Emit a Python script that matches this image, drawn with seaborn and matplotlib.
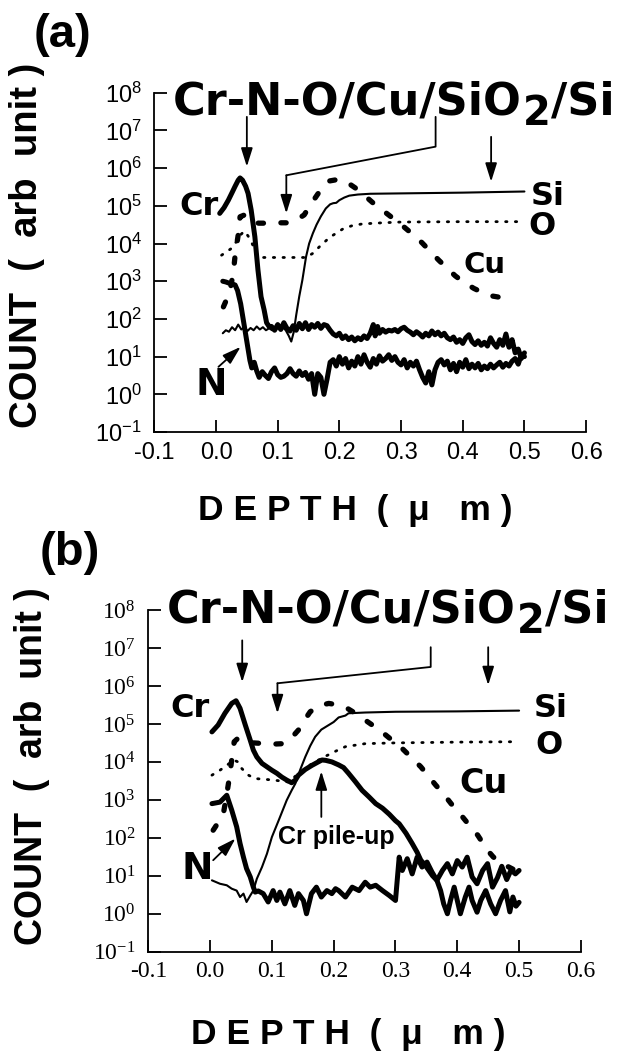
import matplotlib
matplotlib.use("Agg")
import matplotlib.pyplot as plt
import numpy as np
import pandas as pd
import seaborn as sns
from matplotlib.ticker import FixedLocator, FormatStrFormatter, LogFormatterSciNotation, NullLocator

# ---------------- axis ticks ----------------
xtick_vals = [-0.1, 0.0, 0.1, 0.2, 0.3, 0.4, 0.5, 0.6]
ytick_exps = [-1, 0, 1, 2, 3, 4, 5, 6, 7, 8]

# ---------------- panel (a) data : depth (um), log10(count) ----------------
cr_a_x = [0.006, 0.013, 0.020, 0.026, 0.031, 0.036, 0.039, 0.043, 0.048, 0.052, 0.057, 0.063, 0.068, 0.073, 0.078, 0.082, 0.086,
          0.090, 0.095, 0.100, 0.105, 0.110, 0.115, 0.120, 0.125, 0.130, 0.135,
          0.140, 0.145, 0.150, 0.155, 0.160, 0.165, 0.170, 0.175, 0.180, 0.185,
          0.190, 0.195, 0.200, 0.205, 0.210, 0.215, 0.220, 0.225, 0.230, 0.235,
          0.240, 0.245, 0.250, 0.255, 0.258, 0.262, 0.265,
          0.270, 0.275, 0.280, 0.285, 0.290, 0.295, 0.300, 0.305, 0.310, 0.315,
          0.320, 0.325, 0.330, 0.335, 0.340, 0.345, 0.350, 0.355, 0.360, 0.365,
          0.370, 0.375, 0.380, 0.385, 0.390, 0.395, 0.400, 0.405, 0.410, 0.415,
          0.420, 0.425, 0.430, 0.435, 0.440, 0.445, 0.450, 0.455, 0.460, 0.465,
          0.470, 0.475, 0.480, 0.485, 0.490, 0.495, 0.500]
cr_a_exp = [4.80, 4.95, 5.15, 5.35, 5.52, 5.68, 5.74, 5.68, 5.52, 5.33, 4.89, 4.18, 3.30, 2.59, 2.24, 1.90, 1.80,
            1.80, 1.70, 1.85, 1.72, 1.90, 1.75, 1.68, 1.82, 1.70, 1.88,
            1.74, 1.90, 1.72, 1.85, 1.78, 1.88, 1.75, 1.85, 1.82, 1.70,
            1.60, 1.55, 1.62, 1.48, 1.55, 1.45, 1.52, 1.42, 1.50, 1.45,
            1.55, 1.48, 1.62, 1.85, 1.55, 1.80, 1.62,
            1.72, 1.65, 1.70, 1.68, 1.72, 1.66, 1.74, 1.78, 1.70, 1.65,
            1.58, 1.66, 1.60, 1.52, 1.62, 1.55, 1.68, 1.58, 1.65, 1.55,
            1.62, 1.50, 1.45, 1.52, 1.38, 1.45, 1.35, 1.50, 1.58, 1.40,
            1.32, 1.42, 1.30, 1.38, 1.28, 1.50, 1.35, 1.25, 1.45, 1.30,
            1.60, 1.25, 1.45, 1.10, 1.20, 0.95, 1.10]

n_a_x = [0.011, 0.016, 0.021, 0.026, 0.031, 0.035, 0.040, 0.044, 0.048, 0.052, 0.055, 0.058, 0.062, 0.066, 0.070,
         0.075, 0.080, 0.085, 0.090, 0.095, 0.100, 0.105, 0.110, 0.115, 0.120,
         0.125, 0.130, 0.135, 0.140, 0.145, 0.150, 0.155, 0.160, 0.165, 0.170,
         0.175, 0.180, 0.185, 0.190, 0.195, 0.200, 0.205, 0.210, 0.215, 0.220,
         0.225, 0.230, 0.235, 0.240, 0.245, 0.250, 0.255, 0.260, 0.265, 0.270,
         0.275, 0.280, 0.285, 0.290, 0.295, 0.300, 0.305, 0.310, 0.315, 0.320,
         0.325, 0.330, 0.335, 0.340, 0.345, 0.350, 0.355, 0.360, 0.365, 0.370,
         0.375, 0.380, 0.385, 0.390, 0.395, 0.400, 0.405, 0.410, 0.415, 0.420,
         0.425, 0.430, 0.435, 0.440, 0.445, 0.450, 0.455, 0.460, 0.465, 0.470,
         0.475, 0.480, 0.485, 0.490, 0.495, 0.500]
n_a_exp = [3.00, 2.98, 2.95, 2.93, 2.90, 2.75, 2.40, 2.00, 1.60, 1.20, 0.90, 0.70, 0.85, 0.62, 0.45,
           0.60, 0.50, 0.42, 0.60, 0.70, 0.52, 0.45, 0.48, 0.55, 0.68,
           0.55, 0.48, 0.62, 0.50, 0.58, 0.40, 0.55, 0.00, 0.55, 0.45,
           0.00, 0.40, 0.85, 0.92, 0.75, 1.00, 0.80, 0.95, 0.70, 0.88,
           0.75, 1.00, 0.80, 1.05, 0.85, 0.72, 0.95, 0.80, 1.02, 0.88,
           0.95, 1.05, 0.90, 1.00, 0.85, 0.78, 0.92, 0.70, 0.85, 0.75,
           0.88, 0.65, 0.45, 0.30, 0.60, 0.25, 0.65, 0.85, 0.92, 0.78,
           0.88, 0.65, 0.82, 0.60, 0.85, 0.72, 0.92, 0.68, 0.80, 0.70,
           0.82, 0.65, 0.75, 0.68, 0.80, 0.70, 0.78, 0.85, 0.72, 0.82,
           0.75, 0.88, 0.95, 0.80, 1.05, 1.00]

si_a_x = [0.011, 0.016, 0.021, 0.026, 0.031, 0.036, 0.041, 0.046, 0.051, 0.056,
          0.061, 0.066, 0.071, 0.076, 0.081, 0.086, 0.091, 0.096, 0.100, 0.104,
          0.108, 0.113, 0.118, 0.122, 0.126, 0.130, 0.135, 0.140, 0.146, 0.151,
          0.157, 0.163, 0.170, 0.178, 0.185, 0.190, 0.195, 0.200, 0.208, 0.216,
          0.230, 0.250, 0.300, 0.400, 0.500]
si_a_exp = [1.62, 1.70, 1.66, 1.78, 1.70, 1.85, 1.72, 1.78, 1.68, 1.76,
            1.70, 1.80, 1.72, 1.78, 1.70, 1.75, 1.70, 1.76, 1.75, 1.82,
            1.78, 1.70, 1.55, 1.40, 1.65, 2.10, 2.60, 3.03, 3.65, 4.00,
            4.27, 4.50, 4.72, 4.93, 5.04, 5.07, 5.08, 5.15, 5.22, 5.27,
            5.30, 5.32, 5.33, 5.35, 5.38]

o_a_x = [0.009, 0.017, 0.025, 0.033, 0.041, 0.046, 0.052, 0.057, 0.062, 0.067,
         0.072, 0.090, 0.110, 0.130, 0.146, 0.157, 0.168, 0.184, 0.205, 0.220,
         0.237, 0.270, 0.300, 0.400, 0.500]
o_a_exp = [3.69, 3.78, 3.87, 4.05, 4.25, 4.33, 4.20, 4.05, 3.88, 3.70,
           3.63, 3.63, 3.63, 3.63, 3.63, 3.74, 3.92, 4.16, 4.38, 4.47,
           4.52, 4.55, 4.57, 4.58, 4.58]

cu_a_x = [0.012, 0.022, 0.028, 0.031, 0.036, 0.039, 0.045, 0.052, 0.060, 0.070,
          0.082, 0.100, 0.114, 0.130, 0.143, 0.152, 0.162, 0.172, 0.184, 0.198,
          0.211, 0.228, 0.246, 0.260, 0.275, 0.290, 0.304, 0.320, 0.334, 0.348,
          0.361, 0.375, 0.388, 0.403, 0.418, 0.432, 0.447, 0.465, 0.484]
cu_a_exp = [2.32, 2.70, 3.21, 3.69, 4.23, 4.71, 4.75, 4.62, 4.55, 4.54,
            4.54, 4.55, 4.55, 4.62, 4.76, 5.00, 5.24, 5.48, 5.66, 5.70,
            5.64, 5.45, 5.20, 5.00, 4.82, 4.63, 4.45, 4.23, 4.02, 3.78,
            3.56, 3.34, 3.14, 2.96, 2.81, 2.70, 2.61, 2.56, 2.52]

# ---------------- panel (b) data ----------------
cr_b_x = [0.003, 0.013, 0.024, 0.035, 0.042, 0.0485, 0.057, 0.065, 0.070, 0.0756,
          0.084, 0.092, 0.100, 0.108, 0.116, 0.124, 0.132, 0.138, 0.143, 0.154,
          0.165, 0.174, 0.181, 0.187, 0.197, 0.208, 0.216, 0.224, 0.235, 0.246,
          0.257, 0.268, 0.279, 0.290, 0.300, 0.306, 0.317, 0.327, 0.335, 0.341,
          0.348, 0.354, 0.360, 0.367, 0.373, 0.378, 0.384, 0.389, 0.395, 0.400,
          0.405, 0.413, 0.419, 0.424, 0.432, 0.438, 0.446, 0.454, 0.462, 0.470,
          0.478, 0.485, 0.490, 0.495, 0.500]
cr_b_exp = [4.79, 4.97, 5.28, 5.54, 5.61, 5.41, 4.97, 4.57, 4.31, 4.13,
            3.96, 3.87, 3.78, 3.70, 3.60, 3.52, 3.45, 3.52, 3.65, 3.80,
            3.91, 3.99, 4.05, 4.04, 4.00, 3.92, 3.85, 3.70, 3.48, 3.25,
            3.08, 2.90, 2.78, 2.62, 2.45, 2.37, 2.12, 1.85, 1.62, 1.41,
            1.28, 1.14, 1.00, 0.88, 0.61, 0.26, 0.00, 0.35, 0.70, 0.35,
            0.00, 0.44, 0.70, 0.35, 0.04, 0.35, 0.61, 0.26, 0.00, 0.35,
            0.61, 0.05, 0.44, 0.20, 0.30]

n_b_x = [0.003, 0.016, 0.027, 0.035, 0.043, 0.0485, 0.054, 0.059, 0.065, 0.070,
         0.073, 0.078, 0.086, 0.094, 0.102, 0.108, 0.113, 0.121, 0.129, 0.137,
         0.143, 0.151, 0.156, 0.164, 0.172, 0.180, 0.189, 0.197, 0.203, 0.208,
         0.219, 0.230, 0.241, 0.251, 0.259, 0.268, 0.279, 0.290, 0.300, 0.306,
         0.311, 0.319, 0.327, 0.335, 0.343, 0.351, 0.359, 0.367, 0.376, 0.384,
         0.392, 0.400, 0.408, 0.416, 0.424, 0.432, 0.441, 0.449, 0.457, 0.465,
         0.472, 0.480, 0.487, 0.494, 0.500]
n_b_exp = [2.90, 2.94, 3.12, 2.73, 2.29, 1.85, 1.49, 1.19, 0.97, 0.70,
           0.57, 0.60, 0.53, 0.31, 0.61, 0.35, 0.57, 0.26, 0.61, 0.22,
           0.53, 0.35, 0.00, 0.53, 0.70, 0.44, 0.61, 0.53, 0.66, 0.61,
           0.44, 0.70, 0.61, 0.83, 0.70, 0.75, 0.61, 0.48, 0.35, 1.49,
           1.14, 1.45, 1.05, 1.49, 1.23, 1.36, 1.10, 0.88, 1.14, 1.32,
           1.05, 1.40, 1.23, 1.49, 0.97, 0.79, 1.14, 1.32, 0.70, 0.95,
           1.25, 0.90, 1.15, 1.05, 1.14]

si_b_x = [0.003, 0.016, 0.027, 0.035, 0.043, 0.0485, 0.054, 0.059, 0.065, 0.070,
          0.0756, 0.084, 0.092, 0.100, 0.111, 0.124, 0.132, 0.138, 0.146, 0.154,
          0.162, 0.170, 0.180, 0.192, 0.200, 0.208, 0.219, 0.224, 0.251, 0.300,
          0.400, 0.500]
si_b_exp = [0.88, 0.79, 0.75, 0.66, 0.61, 0.44, 0.53, 0.31, 0.48, 0.61,
            0.92, 1.23, 1.58, 2.02, 2.46, 2.99, 3.25, 3.43, 3.80, 4.13,
            4.42, 4.66, 4.85, 4.97, 5.05, 5.17, 5.22, 5.28, 5.30, 5.32,
            5.33, 5.35]

o_b_x = [0.003, 0.016, 0.028, 0.038, 0.045, 0.051, 0.062, 0.073, 0.089, 0.103,
         0.127, 0.140, 0.155, 0.170, 0.187, 0.208, 0.219, 0.251, 0.300, 0.400,
         0.490]
o_b_exp = [3.65, 3.78, 3.92, 4.05, 4.00, 3.83, 3.65, 3.56, 3.54, 3.52,
           3.47, 3.65, 3.85, 4.00, 4.15, 4.32, 4.40, 4.48, 4.50, 4.52,
           4.53]

cu_b_x = [0.005, 0.013, 0.021, 0.026, 0.031, 0.035, 0.039, 0.045, 0.055, 0.070,
          0.089, 0.105, 0.119, 0.131, 0.143, 0.152, 0.162, 0.176, 0.192, 0.207,
          0.222, 0.236, 0.251, 0.266, 0.281, 0.296, 0.311, 0.326, 0.341, 0.353,
          0.365, 0.378, 0.390, 0.401, 0.411, 0.422, 0.433, 0.441, 0.449, 0.458,
          0.468, 0.481, 0.494]
cu_b_exp = [2.20, 2.40, 2.59, 3.05, 3.56, 4.05, 4.53, 4.62, 4.55, 4.50,
            4.48, 4.47, 4.48, 4.62, 4.84, 5.08, 5.32, 5.48, 5.54, 5.50,
            5.41, 5.27, 5.10, 4.93, 4.75, 4.55, 4.35, 4.11, 3.87, 3.63,
            3.39, 3.15, 2.90, 2.70, 2.50, 2.28, 2.07, 1.87, 1.67, 1.50,
            1.36, 1.25, 1.14]

# ---------------- style ----------------
sns.set_theme(style="ticks")
plt.rcParams.update({
    "font.family": ["Liberation Sans", "DejaVu Sans"],
    "axes.linewidth": 1.3,
    "axes.edgecolor": "black",
    "xtick.direction": "in", "ytick.direction": "in",
    "xtick.major.size": 9, "ytick.major.size": 9,
    "xtick.major.width": 1.3, "ytick.major.width": 1.3,
    "xtick.color": "black", "ytick.color": "black",
    "text.color": "black",
    "axes.facecolor": "white", "figure.facecolor": "white",
})

THICK = dict(linewidth=3.6, solid_capstyle="round", solid_joinstyle="round")
THIN = dict(linewidth=1.5, solid_joinstyle="round")
DOTTED = dict(linewidth=2.0, linestyle=(0, (0.5, 3.0)), dash_capstyle="round")
CUDASH = dict(linewidth=3.8, linestyle=(0, (1.0, 3.3)), dash_capstyle="round")

LBL = "DejaVu Sans"
ARROW = dict(arrowstyle="-|>,head_length=0.7,head_width=0.22", color="black",
             lw=1.3, shrinkA=0, shrinkB=0, mutation_scale=16)


def curve(ax, xs, exps, style):
    df = pd.DataFrame({"depth": xs, "count": np.power(10.0, np.asarray(exps, dtype=float))})
    sns.lineplot(data=df, x="depth", y="count", ax=ax, color="black",
                 estimator=None, sort=False, legend=False, **style)


def setup(ax, fam):
    ax.set_yscale("log")
    ax.set_xlim(xtick_vals[0], xtick_vals[-1])
    ax.set_ylim(10.0 ** ytick_exps[0], 10.0 ** ytick_exps[-1])
    ax.xaxis.set_major_locator(FixedLocator(xtick_vals))
    ax.xaxis.set_major_formatter(FormatStrFormatter("%.1f"))
    ax.yaxis.set_major_locator(FixedLocator(10.0 ** np.array(ytick_exps, dtype=float)))
    ax.yaxis.set_major_formatter(LogFormatterSciNotation())
    ax.xaxis.set_minor_locator(NullLocator())
    ax.yaxis.set_minor_locator(NullLocator())
    sns.despine(ax=ax)
    ax.set_xlabel("")
    ax.set_ylabel("")
    ax.tick_params(axis="both", labelsize=17, labelfontfamily=fam)
    ax.tick_params(axis="x", pad=7)
    ax.tick_params(axis="y", pad=9)


def e(v):
    return 10.0 ** v


def arrow(ax, start, end):
    ax.annotate("", xy=(end[0], e(end[1])), xytext=(start[0], e(start[1])),
                xycoords="data", textcoords="data", arrowprops=ARROW, annotation_clip=False)


def title(ax, x, y, fs):
    t1 = ax.text(x, e(y), "Cr-N-O/Cu/SiO", fontsize=fs, fontweight="bold", family=LBL,
                 ha="left", va="baseline", clip_on=False)
    t2 = ax.annotate("2", xy=(1, 0), xycoords=t1, xytext=(0.5, -fs * 0.22), textcoords="offset points",
                     fontsize=fs * 0.9, fontweight="bold", family=LBL, ha="left", va="bottom")
    ax.annotate("/Si", xy=(1, 0), xycoords=(t2, t1), xytext=(0.5, 0), textcoords="offset points",
                fontsize=fs, fontweight="bold", family=LBL, ha="left", va="bottom")


def label(ax, x, y, s, fs, fam=LBL):
    ax.text(x, e(y), s, fontsize=fs, fontweight="bold", family=fam, ha="left", va="baseline", clip_on=False)


def bracket(ax, pts):
    ax.plot([p[0] for p in pts], [e(p[1]) for p in pts], color="black", lw=1.3, clip_on=False)


fig = plt.figure(figsize=(6.22, 10.55), dpi=100)
ax_a = fig.add_axes([0.2481, 0.5905, 0.6942, 0.3216])
ax_b = fig.add_axes([0.2384, 0.0979, 0.6955, 0.3239])

# ---- panel (a) ----
setup(ax_a, "Liberation Sans")
curve(ax_a, o_a_x, o_a_exp, DOTTED)
curve(ax_a, cu_a_x, cu_a_exp, CUDASH)
curve(ax_a, si_a_x, si_a_exp, THIN)
curve(ax_a, n_a_x, n_a_exp, THICK)
curve(ax_a, cr_a_x, cr_a_exp, THICK)
setup(ax_a, "Liberation Sans")

title(ax_a, -0.0695, 7.41, 32)
arrow(ax_a, (0.050, 7.36), (0.050, 6.04))
bracket(ax_a, [(0.356, 7.36), (0.356, 6.57), (0.114, 5.81)])
arrow(ax_a, (0.114, 5.81), (0.114, 4.80))
arrow(ax_a, (0.446, 6.83), (0.446, 5.64))
arrow(ax_a, (0.004, 0.73), (0.040, 1.26))
label(ax_a, -0.060, 4.76, "Cr", 23)
label(ax_a, 0.510, 5.02, "Si", 23)
label(ax_a, 0.507, 4.23, "O", 23)
label(ax_a, 0.401, 3.21, "Cu", 21)
label(ax_a, -0.033, -0.02, "N", 27)

# ---- panel (b) ----
setup(ax_b, "Liberation Serif")
curve(ax_b, o_b_x, o_b_exp, DOTTED)
curve(ax_b, cu_b_x, cu_b_exp, CUDASH)
curve(ax_b, si_b_x, si_b_exp, THIN)
curve(ax_b, n_b_x, n_b_exp, THICK)
curve(ax_b, cr_b_x, cr_b_exp, THICK)
setup(ax_b, "Liberation Serif")

title(ax_b, -0.070, 7.66, 32)
arrow(ax_b, (0.052, 7.20), (0.052, 6.10))
bracket(ax_b, [(0.357, 7.02), (0.357, 6.50), (0.109, 6.07)])
arrow(ax_b, (0.109, 6.07), (0.109, 5.28))
arrow(ax_b, (0.450, 7.02), (0.450, 6.02))
arrow(ax_b, (0.005, 1.41), (0.041, 1.98))
arrow(ax_b, (0.180, 2.55), (0.180, 3.75))
label(ax_b, -0.065, 5.19, "Cr", 23)
label(ax_b, 0.523, 5.19, "Si", 23)
label(ax_b, 0.526, 4.22, "O", 23)
label(ax_b, 0.403, 3.17, "Cu", 24)
label(ax_b, -0.047, 0.92, "N", 27)
label(ax_b, 0.110, 1.85, "Cr pile-up", 18, fam="Liberation Sans")

# ---- figure-level labels ----
fig.text(0.101, 0.9668, "(a)", fontsize=34, fontweight="bold", ha="center", va="center")
fig.text(0.1125, 0.4758, "(b)", fontsize=34, fontweight="bold", ha="center", va="center")
fig.text(0.0434, 0.7670, "COUNT  (  arb  unit )", fontsize=27.5, fontweight="bold",
         rotation=90, ha="center", va="center")
fig.text(0.0514, 0.2740, "COUNT  (  arb  unit )", fontsize=27, fontweight="bold",
         rotation=90, ha="center", va="center")
fig.text(0.5707, 0.5165, "D E P T H  (  \u03bc   m )", fontsize=25.5, fontweight="bold",
         ha="center", va="center")
fig.text(0.5595, 0.019, "D E P T H  (  \u03bc   m )", fontsize=25.5, fontweight="bold",
         ha="center", va="center")

fig.savefig("out.png", dpi=100)
